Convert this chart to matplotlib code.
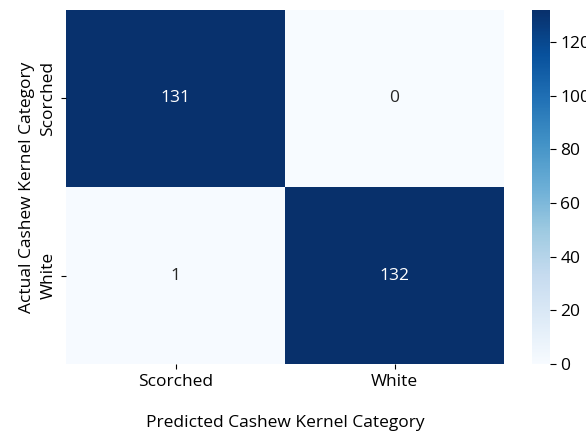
import matplotlib
matplotlib.use("Agg")
import matplotlib.pyplot as plt
import seaborn as sns
import numpy as np

# confusion matrix values
categories = ["Scorched", "White"]
conf_matrix = [[131, 0],
               [1, 132]]

plt.rcParams['font.family'] = ['Open Sans', 'DejaVu Sans']
plt.rcParams['font.size'] = 12.5

fig = plt.figure(figsize=(5.86, 4.40), dpi=100)
ax = fig.add_axes([66/586, 1-364/440, (504-66)/586, (364-10)/440])
cax = fig.add_axes([532/586, 1-364/440, (550-532)/586, (364-10)/440])

sns.heatmap(np.array(conf_matrix), annot=True, fmt='d', cmap='Blues',
            xticklabels=categories, yticklabels=categories,
            ax=ax, cbar_ax=cax, annot_kws={'size': 12.5})
ax.set_yticklabels(categories, rotation=90, va='center')
ax.set_xlabel('Predicted Cashew Kernel Category', labelpad=18)
ax.set_ylabel('Actual Cashew Kernel Category', labelpad=4)
cax.tick_params(length=4)

fig.savefig('out.png', dpi=100)
